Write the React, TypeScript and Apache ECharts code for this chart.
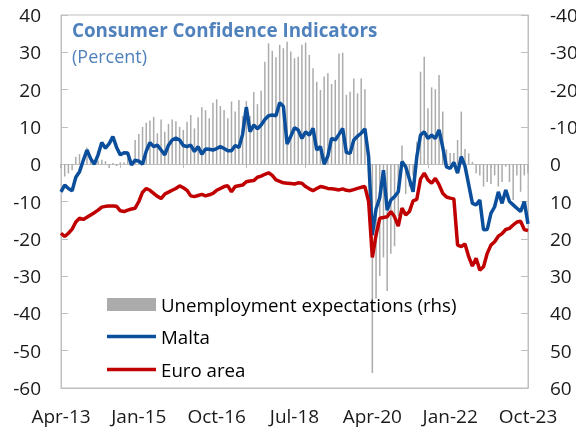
import React, { useEffect, useRef } from "react";
import * as echarts from "echarts";

const MONTH_NAMES = ["Jan", "Feb", "Mar", "Apr", "May", "Jun", "Jul", "Aug", "Sep", "Oct", "Nov", "Dec"];
// Apr-13 .. Oct-23 (127 months)
const months: string[] = [];
for (let k = 0; k < 127; k++) {
  const m = (3 + k) % 12;
  const y = 13 + Math.floor((3 + k) / 12);
  months.push(`${MONTH_NAMES[m]}-${y}`);
}

const unemploymentExpectations = [
  1, 3.3, 2.5, 1.6, -2.0, -2.7, -1.0, -4.5, -1.5, -0.5,
  -1.0, -1.2, -0.8, 1.0, -0.3, 0.5, -0.5, -0.5, -1.5, -0.5,
  -6.5, -8.1, -10.0, -11.1, -11.7, -12.7, -8.3, -12.0, -8.7, -10.8,
  -12.0, -11.5, -10.0, -9.2, -11.4, -13.2, -9.6, -12.6, -15.3, -14.5,
  -12.3, -16.5, -17.4, -15.6, -14.5, -12.3, -16.8, -14.1, -17.2, -12.9,
  -16.9, -13.0, -19.4, -16.1, -19.7, -27.5, -32.4, -30.4, -28.7, -32.0,
  -31.1, -32.8, -30.2, -28.4, -28.8, -32.0, -32.6, -29.3, -25.7, -22.1,
  -19.9, -23.5, -24.4, -21.5, -22.6, -29.7, -29.9, -18.6, -19.4, -23.0,
  -19.0, -23.0, -20.1, 3, 56, 36, 30, 25, 34, 24,
  22, 14, -5, 8, 6, 3, -6, -24.8, -28.8, -15.0,
  -20.6, -20.1, -23.9, -14.1, -4, -3, -3, -6.5, -14.1, -4.1,
  -2.9, -0.6, 2.4, 3.0, 6.0, 4.8, 5.3, 3.0, 6.0, 4.8,
  0.7, 4.8, 9.6, 3.0, 7.4, 3.0, 2.4,
];

const malta = [
  -7.4, -5.6, -6.5, -7.1, -3.5, -2.0, 1.0, 3.8, 1.5, 0.0,
  2.5, 5.8, 4.3, 5.5, 7.4, 4.5, 2.5, 3.1, 3.0, -0.2,
  1.1, 0.8, 0.0, 3.5, 5.8, 4.7, 5.1, 3.8, 2.5, 5.1,
  6.5, 7.0, 6.5, 5.0, 4.7, 5.1, 3.4, 4.7, 2.7, 4.1,
  4.0, 3.8, 4.2, 4.7, 4.2, 3.6, 3.6, 5.0, 4.5, 8.0,
  15.3, 8.7, 10.5, 9.5, 10.5, 12.0, 13.0, 13.2, 13.0, 16.5,
  15.5, 5.4, 7.5, 9.8, 9.2, 6.9, 8.7, 7.8, 9.6, 3.8,
  4.7, 0.0, 2.2, 6.9, 6.5, 8.0, 9.6, 3.1, 2.9, 6.5,
  7.5, 8.3, 9.5, 2.0, -19.0, -12.0, -9.0, -1.6, -12.3, -9.6,
  -8.7, -7.4, 0.7, -0.7, -4.0, -7.4, 2.0, 7.8, 8.7, 6.9,
  7.8, 6.9, 9.2, 4.5, -0.7, -1.1, 0.5, -2.4, 2.0, -0.5,
  -5.5, -10.5, -10.9, -9.6, -17.6, -17.5, -13.2, -11.4, -7.4, -10.5,
  -6.9, -10.0, -10.9, -11.8, -12.7, -10.0, -16.0,
];

const euroArea = [
  -18.5, -19.4, -18.5, -17.4, -15.5, -14.5, -14.8, -14.2, -13.6, -13.0,
  -12.3, -11.5, -11.3, -11.2, -11.2, -11.3, -12.5, -12.7, -12.3, -12.0,
  -11.8, -10.0, -7.5, -6.5, -7.0, -7.8, -8.6, -9.2, -8.0, -7.5,
  -7.0, -6.5, -5.8, -6.3, -7.0, -8.5, -8.7, -8.4, -8.1, -8.5,
  -8.2, -7.8, -7.0, -6.5, -6.0, -5.8, -7.4, -6.0, -5.8, -5.6,
  -4.7, -4.5, -4.4, -3.5, -3.2, -2.7, -2.3, -3.0, -4.2, -4.6,
  -5.0, -5.1, -5.2, -5.3, -5.0, -5.1, -6.0, -6.6, -7.1, -6.5,
  -6.0, -6.2, -6.5, -6.6, -6.7, -6.9, -6.6, -7.0, -7.1, -6.8,
  -6.5, -6.2, -6.0, -10.0, -25.0, -19.0, -14.5, -14.3, -14.1, -12.7,
  -14.1, -16.6, -11.8, -13.6, -12.7, -9.8, -9.4, -4.0, -2.4, -4.2,
  -5.1, -3.8, -5.5, -7.8, -8.8, -9.1, -9.3, -21.7, -22.1, -21.4,
  -24.8, -27.3, -25.2, -28.4, -27.5, -23.9, -21.7, -20.8, -19.3, -18.6,
  -17.5, -17.2, -16.3, -15.5, -15.3, -17.5, -17.8,
];

const zeroTickIndexes = [0, 16, 33, 50, 66, 83, 99, 116];

const FONT = "Open Sans";
const TITLE_COLOR = "#4f81bd";
const FRAME = "#bfbfbf";
const BLUE = "#0b4f9c";
const RED = "#c00000";
const GREY = "#ababab";

export default function App() {
  const ref = useRef<HTMLDivElement>(null);
  useEffect(() => {
    if (!ref.current) return;
    const chart = echarts.init(ref.current, null, { renderer: "svg" });
    const legendText = { fontSize: 18.7, color: "#000", fontFamily: FONT };
    const axisText = { fontSize: 19, color: "#1a1a1a", fontFamily: FONT };
    chart.setOption({
      animation: false,
      textStyle: { fontFamily: FONT },
      title: [
        {
          text: "Consumer Confidence Indicators",
          left: 67,
          top: 15,
          textStyle: { fontSize: 18.8, fontWeight: "bold", color: TITLE_COLOR, fontFamily: FONT },
        },
        {
          text: "(Percent)",
          left: 67,
          top: 42,
          textStyle: { fontSize: 18, fontWeight: "normal", color: TITLE_COLOR, fontFamily: FONT },
        },
      ],
      legend: [
        {
          data: [{ name: "Unemployment expectations (rhs)", icon: "rect" }],
          left: 107,
          top: 295,
          padding: 0,
          itemWidth: 49,
          itemHeight: 13,
          textStyle: legendText,
        },
        {
          data: [{ name: "Malta", icon: "rect" }],
          left: 107,
          top: 327,
          padding: 0,
          itemWidth: 49,
          itemHeight: 3.5,
          textStyle: legendText,
        },
        {
          data: [{ name: "Euro area", icon: "rect" }],
          left: 107,
          top: 360,
          padding: 0,
          itemWidth: 49,
          itemHeight: 3.5,
          textStyle: legendText,
        },
      ],
      grid: {
        left: 61,
        right: 48,
        top: 15,
        bottom: 40,
        show: true,
        borderColor: FRAME,
        borderWidth: 1,
        containLabel: false,
        outerBoundsMode: "none",
      },
      xAxis: [
        {
          type: "category",
          data: months,
          boundaryGap: false,
          position: "bottom",
          axisLine: { show: true, onZero: false, lineStyle: { color: FRAME } },
          axisTick: { show: false },
          axisLabel: { interval: 20, margin: 18, ...axisText },
          splitLine: { show: false },
        },
        {
          type: "category",
          data: months,
          boundaryGap: false,
          position: "top",
          offset: -149,
          axisLine: { show: true, onZero: false, lineStyle: { color: FRAME } },
          axisTick: {
            show: true,
            inside: true,
            length: 4,
            lineStyle: { color: FRAME },
            interval: (index: number) => zeroTickIndexes.includes(index),
          },
          axisLabel: { show: false },
          splitLine: { show: false },
        },
      ],
      yAxis: [
        {
          type: "value",
          min: -60,
          max: 40,
          interval: 10,
          position: "left",
          axisLine: { show: true, lineStyle: { color: FRAME } },
          axisTick: { show: true, inside: true, length: 7, lineStyle: { color: FRAME } },
          axisLabel: { margin: 20, ...axisText },
          splitLine: { show: false },
        },
        {
          type: "value",
          min: -40,
          max: 60,
          interval: 10,
          inverse: true,
          position: "right",
          axisLine: { show: true, lineStyle: { color: FRAME } },
          axisTick: { show: true, inside: true, length: 7, lineStyle: { color: FRAME } },
          axisLabel: { margin: 22, ...axisText },
          splitLine: { show: false },
        },
      ],
      series: [
        {
          name: "Unemployment expectations (rhs)",
          type: "bar",
          xAxisIndex: 0,
          yAxisIndex: 1,
          data: unemploymentExpectations,
          barWidth: 1.5,
          itemStyle: { color: GREY },
          silent: true,
        },
        {
          name: "Malta",
          type: "line",
          xAxisIndex: 0,
          yAxisIndex: 0,
          data: malta,
          symbol: "none",
          lineStyle: { color: BLUE, width: 3.5 },
          itemStyle: { color: BLUE },
        },
        {
          name: "Euro area",
          type: "line",
          xAxisIndex: 0,
          yAxisIndex: 0,
          data: euroArea,
          symbol: "none",
          lineStyle: { color: RED, width: 3.5 },
          itemStyle: { color: RED },
        },
      ],
    });
    return () => chart.dispose();
  }, []);
  return <div ref={ref} style={{ position: "fixed", left: 0, top: 0, width: 576, height: 428 }} />;
}
